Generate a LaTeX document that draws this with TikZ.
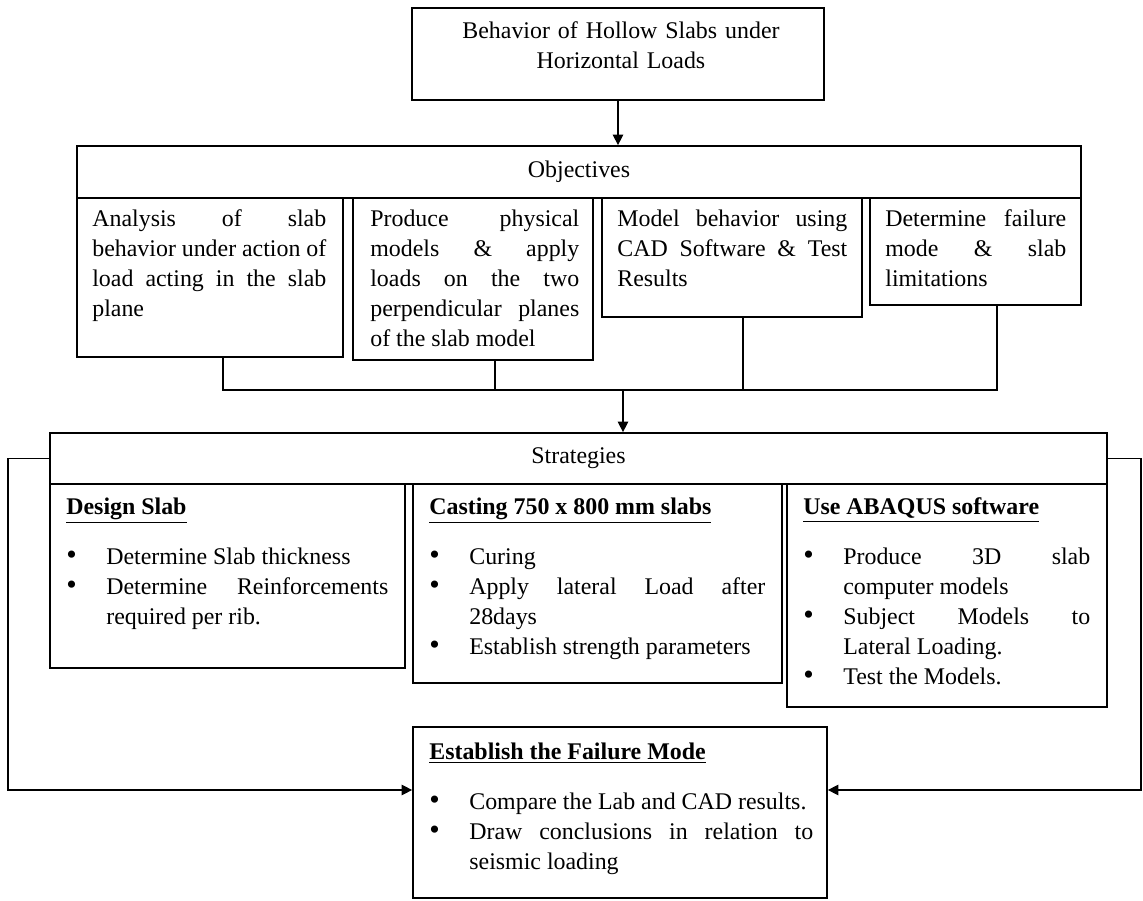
\documentclass[tikz,border=0pt]{standalone}
\usepackage{fontspec}
\setmainfont{Liberation Serif}
\usetikzlibrary{fit,arrows.meta}

\newlength{\bind}\setlength{\bind}{0.8cm}
\newcommand{\jl}[1]{\makebox[\hsize][s]{\spaceskip=0pt\relax#1}}
\newcommand{\bjl}[1]{\makebox[\dimexpr\hsize-\bind\relax][s]{\spaceskip=0pt\relax#1}}
\newcommand{\bul}{\makebox[\bind][l]{\fontsize{17pt}{17pt}\selectfont\textbullet}}
\newcommand{\ind}{\hspace*{\bind}}

\tikzset{
    box/.style={draw, line width=1pt, inner sep=0pt},
    txt/.style={anchor=base west, inner sep=0pt, align=justify},
    conn/.style={line width=0.8pt},
    arr/.style={conn, -{Triangle[length=6pt,width=6pt]}},
}

\begin{document}
\begin{tikzpicture}[x=0.02cm, y=-0.02cm, font=\fontsize{13.6pt}{17pt}\selectfont]

        \useasboundingbox (0,0) rectangle (1143,901);

        % title
        \node[box, fit={(412,8) (824,100)}] (top) {};
        \node[anchor=base, inner sep=0pt, text width=7.6cm, align=center] (topt) at (621,39)
            {Behavior of Hollow Slabs under\\ Horizontal Loads};

        % objectives
        \node[box, fit={(77,146) (1081,198)}] (obHead) {};
        \node (obHeadt) at (obHead.center) {Objectives};
        \node[box, fit={(77,198) (343,357)}] (obA) {};
        \node[box, fit={(353,198) (593,360)}] (obB) {};
        \node[box, fit={(602,198) (862,317)}] (obC) {};
        \node[box, fit={(870,198) (1081,305)}] (obD) {};

        \node[txt, text width=4.68cm] (obAt) at (92,227)
            {\jl{Analysis of slab}\\ \jl{behavior under action of}\\ \jl{load acting in the slab}\\ plane};
        \node[txt, text width=4.18cm] (obBt) at (370,227)
            {\jl{Produce physical}\\ \jl{models \& apply}\\ \jl{loads on the two}\\ \jl{perpendicular planes}\\ of the slab model};
        \node[txt, text width=4.6cm] (obCt) at (617,227)
            {\jl{Model behavior using}\\ \jl{CAD Software \& Test}\\ Results};
        \node[txt, text width=3.62cm] (obDt) at (885,227)
            {\jl{Determine failure}\\ \jl{mode \& slab}\\ limitations};

        % strategies
        \node[box, fit={(50,433) (1107,484)}] (stHead) {};
        \node (stHeadt) at (stHead.center) {Strategies};
        \node[box, fit={(50,484) (405,668)}] (stA) {};
        \node[box, fit={(413,484) (782,683)}] (stB) {};
        \node[box, fit={(787,484) (1107,707)}] (stC) {};

        \node[txt, text width=6.44cm] (stAt) at (66,515)
            {\textbf{\underline{Design Slab}}\\[0.4cm]
             \bul Determine Slab thickness\\
             \bul\bjl{Determine Reinforcements}\\
             \ind required per rib.};
        \node[txt, text width=6.72cm] (stBt) at (429,515)
            {\textbf{\underline{Casting 750 x 800 mm slabs}}\\[0.4cm]
             \bul Curing\\
             \bul\bjl{Apply lateral Load after}\\
             \ind 28days\\
             \bul Establish strength parameters};
        \node[txt, text width=5.74cm] (stCt) at (803,515)
            {\textbf{\underline{Use ABAQUS software}}\\[0.4cm]
             \bul\bjl{Produce 3D slab}\\
             \ind computer models\\
             \bul\bjl{Subject Models to}\\
             \ind Lateral Loading.\\
             \bul Test the Models.};

        % failure mode
        \node[box, fit={(413,727) (827,898)}] (fin) {};
        \node[txt, text width=7.68cm] (fint) at (429,760)
            {\textbf{\underline{Establish the Failure Mode}}\\[0.4cm]
             \bul\mbox{Compare the Lab and CAD results.}\\
             \bul\bjl{Draw conclusions in relation to}\\
             \ind seismic loading};

        % connectors
        \draw[arr] (top.south) -- (obHead.north -| top.south);

        \coordinate (jn) at (623,390);
        \draw[conn] (obA.south -| 223,0) |- (jn) -| (obD.south -| 997,0);
        \draw[conn] (obB.south -| 495,0) |- (jn);
        \draw[conn] (obC.south -| 743,0) |- (jn);
        \draw[arr] (jn) -- (jn |- stHead.north);

        \coordinate (lc) at (8,790);
        \coordinate (rc) at (1141,790);
        \draw[arr] (stHead.west) -| (lc) -- (lc -| fin.west);
        \draw[arr] (stHead.east) -| (rc) -- (rc -| fin.east);

\end{tikzpicture}
\end{document}
